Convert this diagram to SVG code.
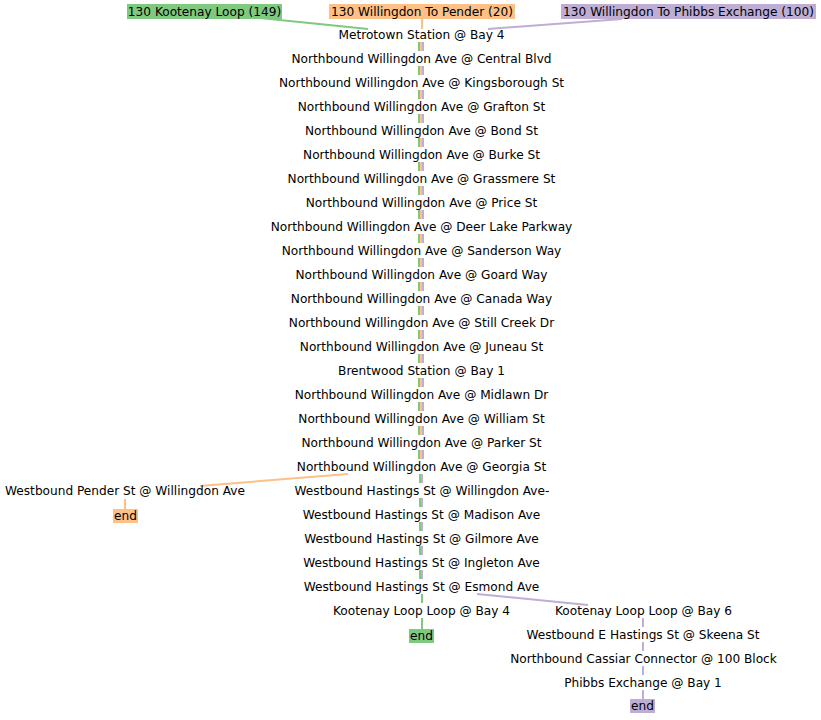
<svg xmlns="http://www.w3.org/2000/svg" width="821" height="720" viewBox="0 0 821 720">
<style>
text{font-family:"DejaVu Sans","Liberation Sans",sans-serif;font-size:12.15px;fill:#000;text-anchor:middle}
.e{fill:none;stroke-width:2}
.g{stroke:#7fc97f}.o{stroke:#fdc086}.p{stroke:#beaed4}
.fg{fill:#7fc97f}.fo{fill:#fdc086}.fp{fill:#beaed4}
</style>
<rect width="821" height="720" fill="#fff"/>
<g id="connectors">
<path class="e g" d="M260 18L368 29 M419 42V51M419 66V75M419 90V99M419 114V123M419 138V147M419 162V171M419 186V195M419 210V219M419 234V243M419 258V267M419 282V291M419 306V315M419 330V339M419 354V363M419 378V387M419 402V411M419 426V435M419 450V459 M420 474V483M420 498V507M420 522V531M420 546V555M420 570V579 M422 594V603M422 618V629"/>
<path class="e o" d="M422 19V29 M421 42V51M421 66V75M421 90V99M421 114V123M421 138V147M421 162V171M421 186V195M421 210V219M421 234V243M421 258V267M421 282V291M421 306V315M421 330V339M421 354V363M421 378V387M421 402V411M421 426V435M421 450V459 M348 474L200 486 M125 499V509"/>
<path class="e p" d="M622 19L488 29 M423 42V51M423 66V75M423 90V99M423 114V123M423 138V147M423 162V171M423 186V195M423 210V219M423 234V243M423 258V267M423 282V291M423 306V315M423 330V339M423 354V363M423 378V387M423 402V411M423 426V435M423 450V459 M422 474V483M422 498V507M422 522V531M422 546V555M422 570V579 M477 594L588 605 M643 618V627M643 642V651M643 666V675M643 690V699"/>
</g>
<g id="h-green"><rect class="fg" x="127" y="4" width="155" height="15"/><text x="204.5" y="15.5">130 Kootenay Loop (149)</text></g>
<g id="h-orange"><rect class="fo" x="329" y="4" width="186" height="15"/><text x="422" y="15.5">130 Willingdon To Pender (20)</text></g>
<g id="h-purple"><rect class="fp" x="561" y="4" width="255" height="15"/><text x="688.5" y="15.5">130 Willingdon To Phibbs Exchange (100)</text></g>
<g id="n0"><text x="421.5" y="39">Metrotown Station @ Bay 4</text></g>
<g id="n1"><text x="421.5" y="63">Northbound Willingdon Ave @ Central Blvd</text></g>
<g id="n2"><text x="421.5" y="87">Northbound Willingdon Ave @ Kingsborough St</text></g>
<g id="n3"><text x="421.5" y="111">Northbound Willingdon Ave @ Grafton St</text></g>
<g id="n4"><text x="421.5" y="135">Northbound Willingdon Ave @ Bond St</text></g>
<g id="n5"><text x="421.5" y="159">Northbound Willingdon Ave @ Burke St</text></g>
<g id="n6"><text x="421.5" y="183">Northbound Willingdon Ave @ Grassmere St</text></g>
<g id="n7"><text x="421.5" y="207">Northbound Willingdon Ave @ Price St</text></g>
<g id="n8"><text x="421.5" y="231">Northbound Willingdon Ave @ Deer Lake Parkway</text></g>
<g id="n9"><text x="421.5" y="255">Northbound Willingdon Ave @ Sanderson Way</text></g>
<g id="n10"><text x="421.5" y="279">Northbound Willingdon Ave @ Goard Way</text></g>
<g id="n11"><text x="421.5" y="303">Northbound Willingdon Ave @ Canada Way</text></g>
<g id="n12"><text x="421.5" y="327">Northbound Willingdon Ave @ Still Creek Dr</text></g>
<g id="n13"><text x="421.5" y="351">Northbound Willingdon Ave @ Juneau St</text></g>
<g id="n14"><text x="421.5" y="375">Brentwood Station @ Bay 1</text></g>
<g id="n15"><text x="421.5" y="399">Northbound Willingdon Ave @ Midlawn Dr</text></g>
<g id="n16"><text x="421.5" y="423">Northbound Willingdon Ave @ William St</text></g>
<g id="n17"><text x="421.5" y="447">Northbound Willingdon Ave @ Parker St</text></g>
<g id="n18"><text x="421.5" y="471">Northbound Willingdon Ave @ Georgia St</text></g>
<g id="n19"><text x="422" y="495">Westbound Hastings St @ Willingdon Ave-</text></g>
<g id="n20"><text x="421.5" y="519">Westbound Hastings St @ Madison Ave</text></g>
<g id="n21"><text x="421.5" y="543">Westbound Hastings St @ Gilmore Ave</text></g>
<g id="n22"><text x="421.5" y="567">Westbound Hastings St @ Ingleton Ave</text></g>
<g id="n23"><text x="421.5" y="591">Westbound Hastings St @ Esmond Ave</text></g>
<g id="n24"><text x="421.5" y="615">Kootenay Loop Loop @ Bay 4</text></g>
<g id="end-green"><rect class="fg" x="409" y="629" width="25" height="14"/><text x="421.5" y="640">end</text></g>
<g id="pender"><text x="125" y="495">Westbound Pender St @ Willingdon Ave</text></g>
<g id="end-orange"><rect class="fo" x="113" y="509" width="25" height="14"/><text x="125.5" y="520">end</text></g>
<g id="k6"><text x="643.5" y="615">Kootenay Loop Loop @ Bay 6</text></g>
<g id="skeena"><text x="643" y="639">Westbound E Hastings St @ Skeena St</text></g>
<g id="cassiar"><text x="643.5" y="663">Northbound Cassiar Connector @ 100 Block</text></g>
<g id="phibbs"><text x="643" y="687">Phibbs Exchange @ Bay 1</text></g>
<g id="end-purple"><rect class="fp" x="630" y="699" width="25" height="14"/><text x="642.5" y="710">end</text></g>
</svg>
